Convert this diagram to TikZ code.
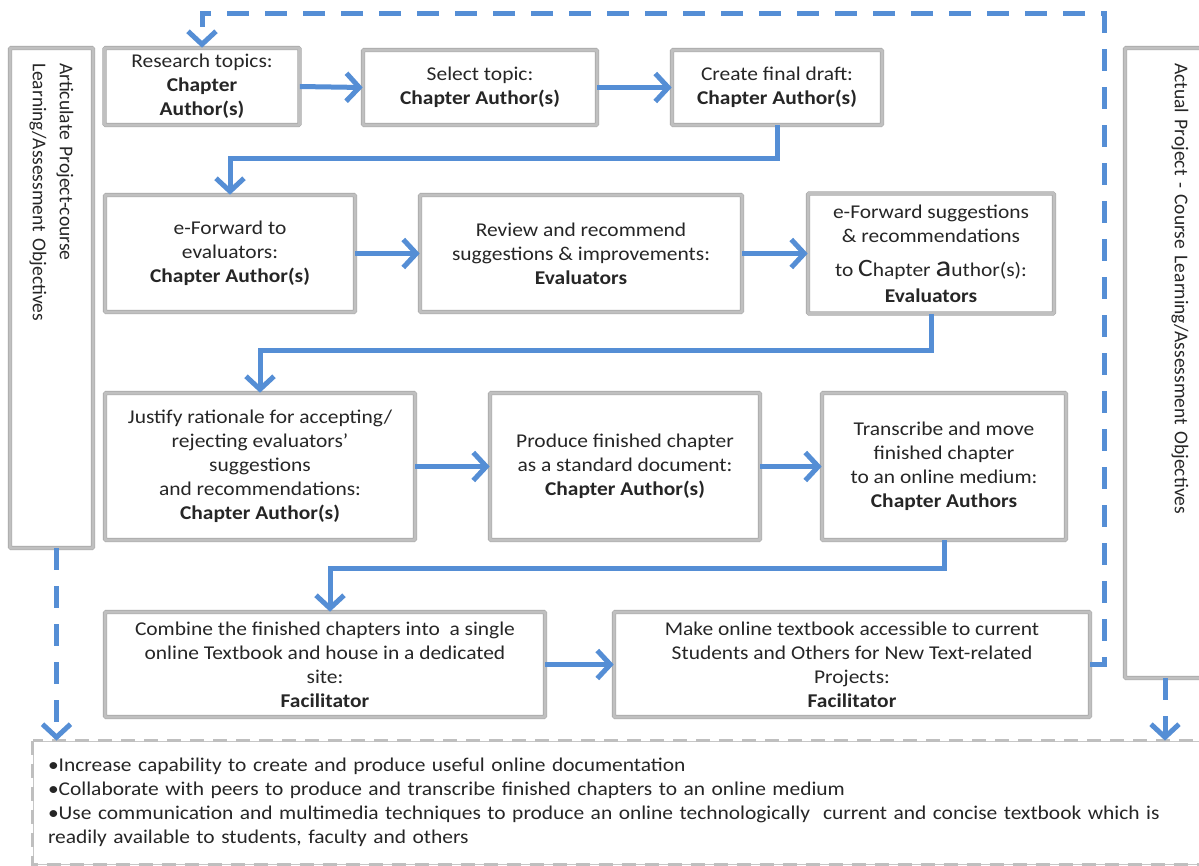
\documentclass[tikz,border=0pt]{standalone}
\usepackage{fontspec}
\setmainfont{Carlito}[FakeStretch=1.1]
\newfontfamily\sidefont{Carlito}
\usetikzlibrary{arrows.meta}
\definecolor{flowblue}{RGB}{85,142,213}
\definecolor{framegray}{RGB}{192,192,192}

\begin{document}
\begin{tikzpicture}[x=1pt,y=-1pt]
  \tikzset{
    every node/.style={font=\fontsize{19.5}{24}\selectfont, text=black!85},
    stage/.style={draw=black!35, double=framegray, double distance=3pt,
          line width=0.6pt, fill=white, align=center, inner sep=2pt,
          rounded corners=1pt},
    sidebox/.style={stage, rotate=-90, align=left,
          font=\sidefont\fontsize{19.5}{27}\selectfont},
    flow/.style={flowblue, line width=5pt,
          -{Straight Barb[length=13pt,width=28pt]}},
    loopback/.style={flow, dash pattern=on 22pt off 16pt},
    goalframe/.style={draw=black!22, line width=0.8pt, fill=white,
          align=left, inner xsep=15pt, inner ysep=0pt},
    goaldash/.style={draw=black!25, line width=3.5pt, dash pattern=on 14pt off 9pt}
  }
  \useasboundingbox (0,0) rectangle (1199,865);
  \fill[white] (0,0) rectangle (1199,865);

  % side columns
  \node[sidebox, minimum width=500, minimum height=83, text width=470pt]
        (artic) at (51.5,298)
        {Articulate Project-course\\Learning/Assessment Objectives};
  \node[sidebox, minimum width=630, minimum height=110, text width=600pt]
        (actual) at (1180,363)
        {Actual Project - Course Learning/Assessment Objectives};

  % row 1
  \node[stage, minimum width=195, minimum height=77] (research) at (202,86.5)
        {Research topics:\\\textbf{Chapter}\\\textbf{Author(s)}};
  \node[stage, minimum width=234, minimum height=75] (select) at (480,87.5)
        {Select topic:\\\textbf{Chapter Author(s)}};
  \node[stage, minimum width=210, minimum height=75] (draft) at (777,87.5)
        {Create final draft:\\\textbf{Chapter Author(s)}};

  % row 2
  \node[stage, minimum width=250, minimum height=117] (fwd) at (230,253.5)
        {e-Forward to\\evaluators:\\\textbf{Chapter Author(s)}};
  \node[stage, minimum width=322, minimum height=117] (review) at (581,253.5)
        {Review and recommend\\suggestions \& improvements:\\\textbf{Evaluators}};
  \node[stage, minimum width=246, minimum height=120] (sugg) at (931,253.5)
        {e-Forward suggestions\\\& recommendations\\[10pt]
         to {\fontsize{25}{24}\selectfont C}hapter {\fontsize{30}{24}\selectfont a}uthor(s):\\[2pt]
         \textbf{Evaluators}};

  % row 3
  \node[stage, minimum width=310, minimum height=147] (justify) at (260,466.5)
        {Justify rationale for accepting/\\rejecting evaluators{\char"0027}\\suggestions\\
         and recommendations:\\\textbf{Chapter Author(s)}};
  \node[stage, minimum width=270, minimum height=147] (produce) at (625,466.5)
        {Produce finished chapter\\as a standard document:\\\textbf{Chapter Author(s)}};
  \node[stage, minimum width=244, minimum height=147] (transcribe) at (944,466.5)
        {Transcribe and move\\finished chapter\\to an online medium:\\\textbf{Chapter Authors}};

  % row 4
  \node[stage, minimum width=440, minimum height=105] (combine) at (325,664.5)
        {Combine the finished chapters into\ \ a single\\online Textbook and house in a dedicated\\
         site:\\\textbf{Facilitator}};
  \node[stage, minimum width=476, minimum height=105] (make) at (852,664.5)
        {Make online textbook accessible to current\\Students and Others for New Text-related\\
         Projects:\\\textbf{Facilitator}};

  % objectives
  \node[goalframe, text width=1150pt, minimum height=123] (goals) at (623,802.5)
        {•Increase capability to create and produce useful online documentation\\
         •Collaborate with peers to produce and transcribe finished chapters to an online medium\\
         •Use communication and multimedia techniques to produce an online technologically\ \ current and concise textbook which is\\
         readily available to students, faculty and others};
  \draw[goaldash] (goals.north west) rectangle (goals.south east);

  % flow
  \draw[flow] (research.east) -- (select.west);
  \draw[flow] (select.east) -- (draft.west);
  \draw[flow] (draft.south) -- ++(0,33) -| (fwd.north);
  \draw[flow] (fwd.east) -- (review.west);
  \draw[flow] (review.east) -- (sugg.west);
  \draw[flow] (sugg.south) -- ++(0,37) -| (justify.north);
  \draw[flow] (justify.east) -- (produce.west);
  \draw[flow] (produce.east) -- (transcribe.west);
  \draw[flow] (transcribe.south) -- ++(0,28) -| ([xshift=5pt]combine.north);
  \draw[flow] (combine.east) -- (make.west);

  % loop back and objectives
  \draw[loopback] (make.east) -- ++(14,0) |- ([yshift=34pt]research.north)
        -- (research.north);
  \coordinate (lft) at ([xshift=5pt]artic.east);
  \coordinate (rgt) at ([xshift=-15pt]actual.east);
  \draw[loopback] (lft) -- (lft |- goals.north);
  \draw[loopback] (rgt) -- (rgt |- goals.north);
\end{tikzpicture}
\end{document}
